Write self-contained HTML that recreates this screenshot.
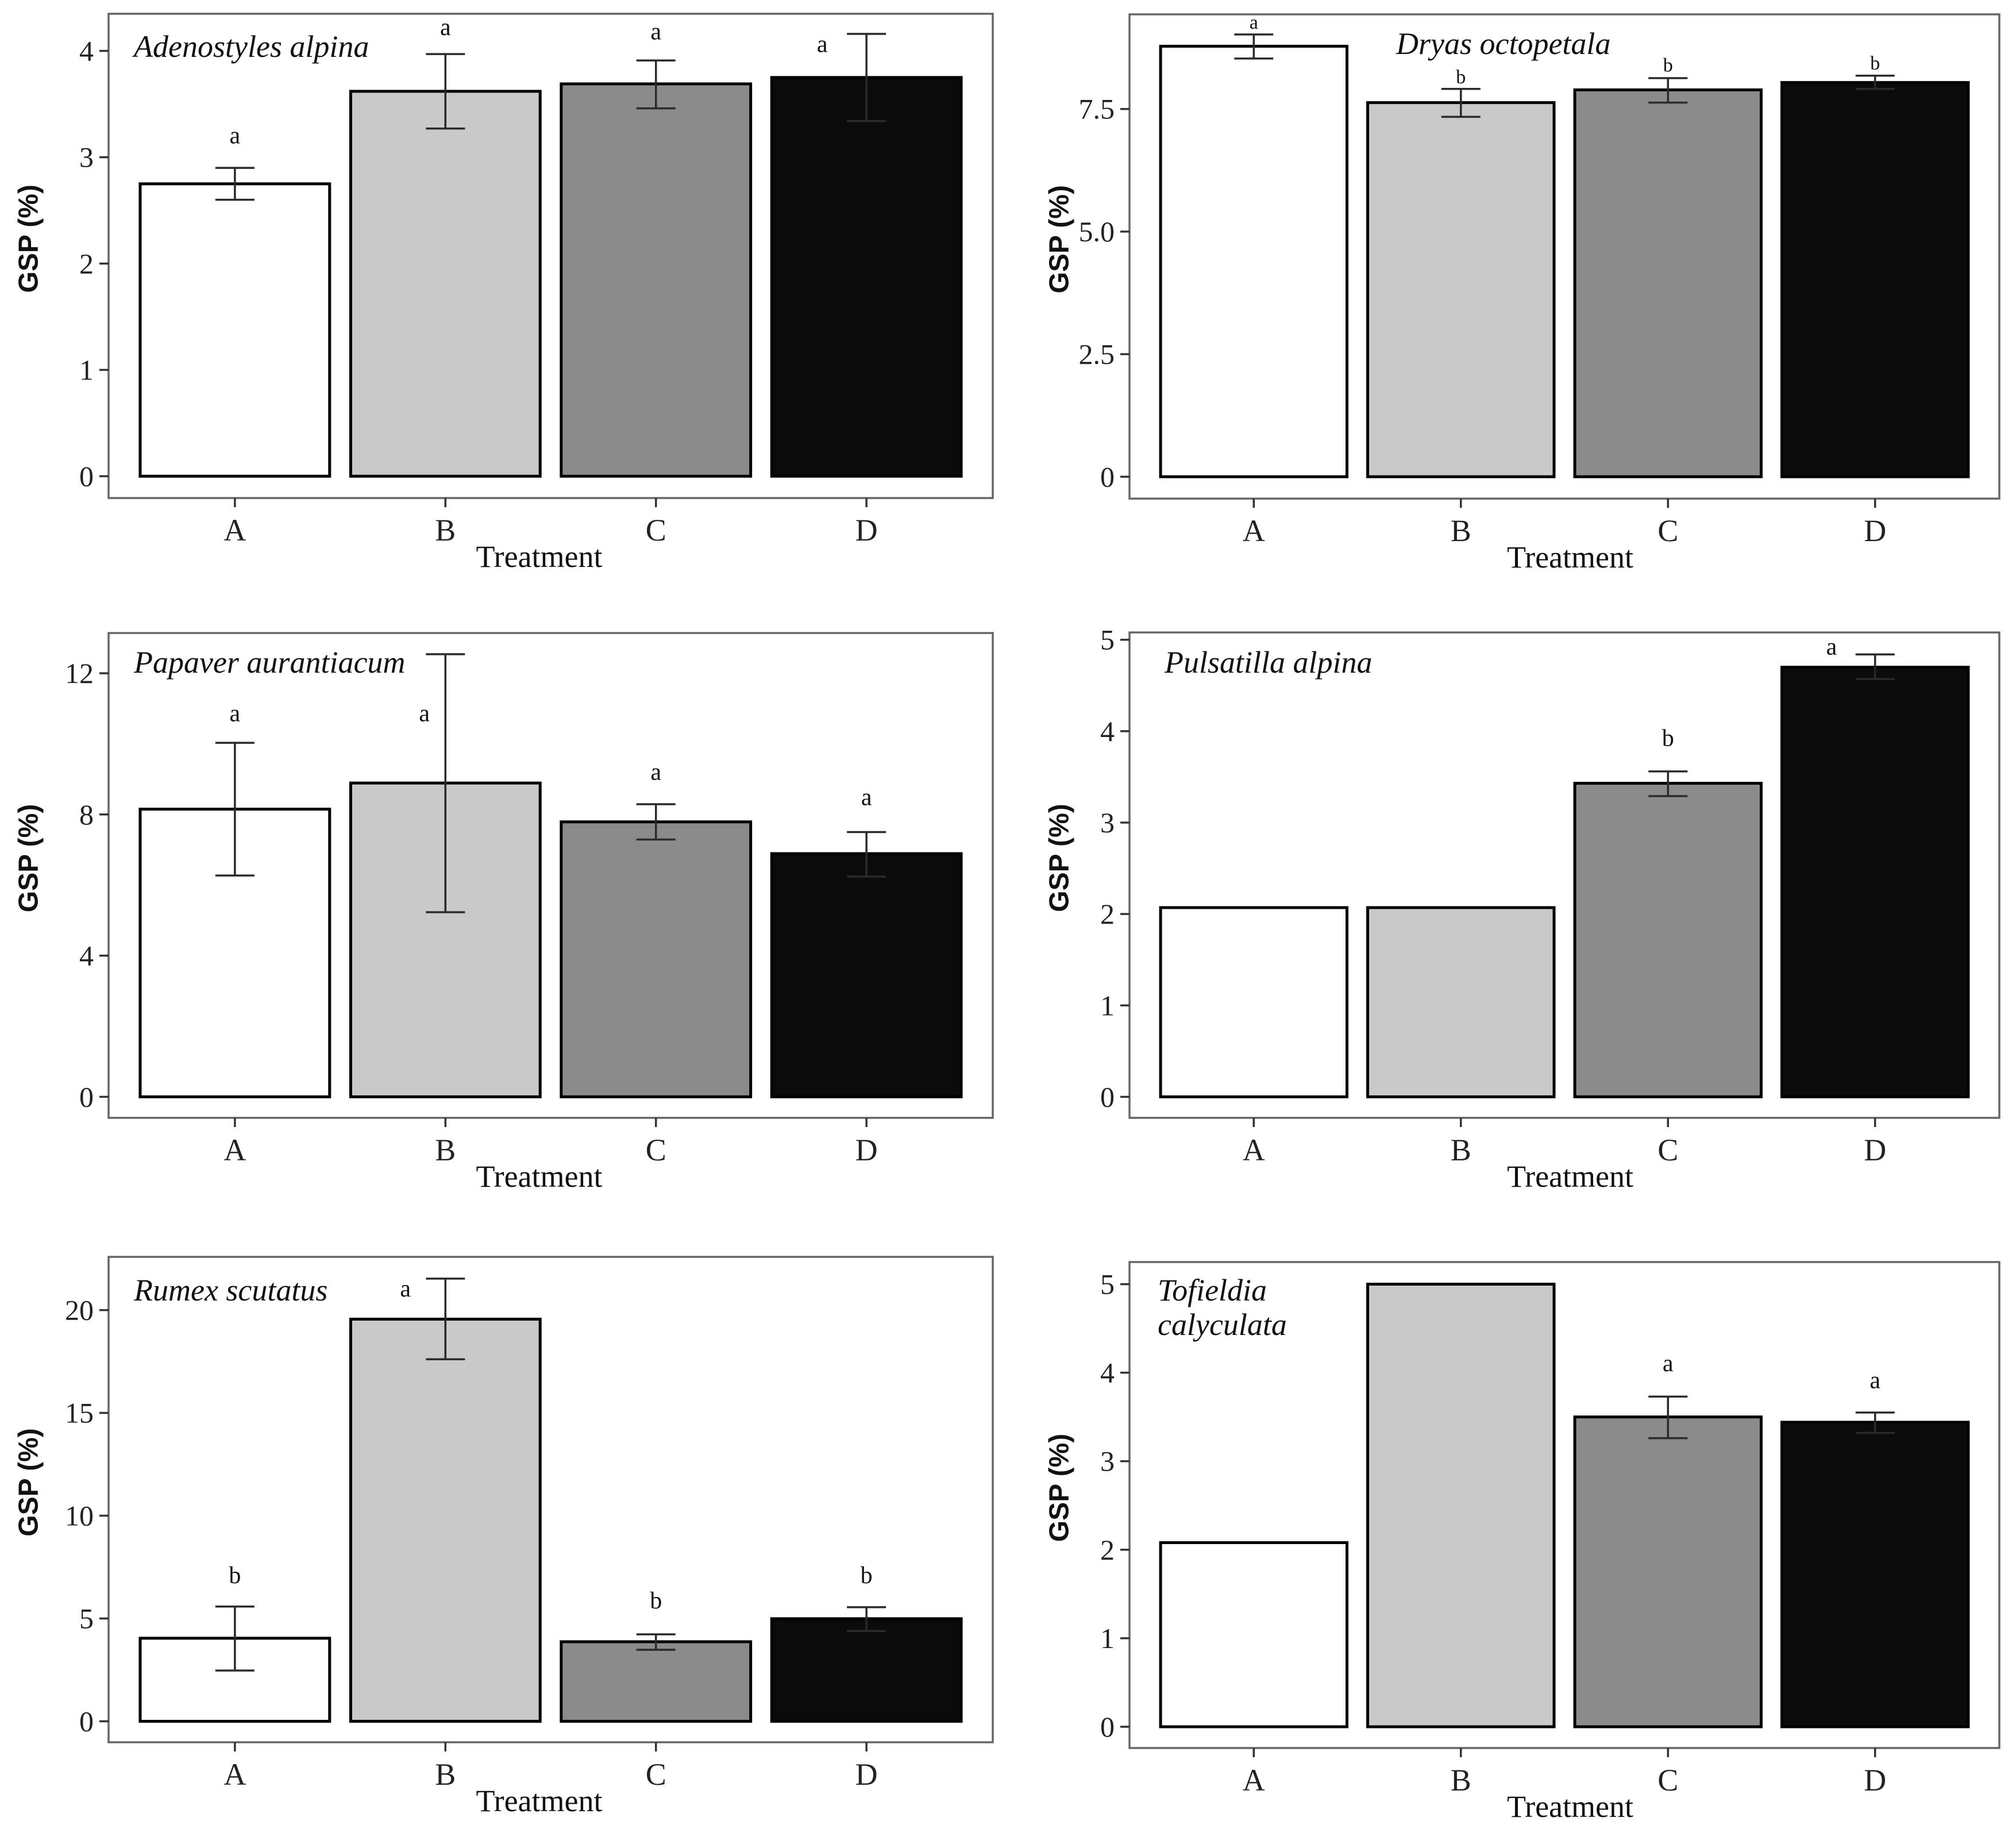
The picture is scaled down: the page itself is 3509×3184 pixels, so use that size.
<!DOCTYPE html>
<html><head><meta charset="utf-8"><style>
html,body{margin:0;padding:0;background:#fff;}
svg{display:block;}
</style></head><body>
<svg id="fig" width="3509" height="3184" viewBox="0 0 3509 3184" xmlns="http://www.w3.org/2000/svg"></svg>
<script>
const categories = ["A","B","C","D"];
const fills = ["#ffffff","#c9c9c9","#8b8b8b","#0b0b0b"];

// Adenostyles alpina
const adenoMeans = [2.75, 3.62, 3.69, 3.75];
const adenoLow = [2.60, 3.27, 3.46, 3.34];
const adenoHigh = [2.90, 3.97, 3.91, 4.16];
const adenoLetters = ["a","a","a","a"];
const adenoLetterY = [3.20, 4.22, 4.18, 4.06];
const adenoTicks = [0,1,2,3,4];
const adenoTickLabels = ["0","1","2","3","4"];

// Dryas octopetala
const dryasMeans = [8.78, 7.63, 7.89, 8.04];
const dryasLow = [8.53, 7.34, 7.63, 7.91];
const dryasHigh = [9.02, 7.91, 8.13, 8.18];
const dryasLetters = ["a","b","b","b"];
const dryasLetterY = [9.26, 8.15, 8.39, 8.43];
const dryasTicks = [0,2.5,5,7.5];
const dryasTickLabels = ["0","2.5","5.0","7.5"];

// Papaver aurantiacum
const papaverMeans = [8.15, 8.89, 7.79, 6.89];
const papaverLow = [6.27, 5.23, 7.29, 6.24];
const papaverHigh = [10.03, 12.54, 8.29, 7.50];
const papaverLetters = ["a","a","a","a"];
const papaverLetterY = [10.85, 10.85, 9.19, 8.48];
const papaverTicks = [0,4,8,12];
const papaverTickLabels = ["0","4","8","12"];

// Pulsatilla alpina
const pulsMeans = [2.07, 2.07, 3.43, 4.70];
const pulsLow = [null, null, 3.29, 4.57];
const pulsHigh = [null, null, 3.56, 4.84];
const pulsLetters = ["","","b","a"];
const pulsLetterY = [0, 0, 3.92, 4.92];
const pulsTicks = [0,1,2,3,4,5];
const pulsTickLabels = ["0","1","2","3","4","5"];

// Rumex scutatus
const rumexMeans = [4.04, 19.56, 3.87, 4.99];
const rumexLow = [2.47, 17.61, 3.48, 4.39];
const rumexHigh = [5.58, 21.53, 4.23, 5.55];
const rumexLetters = ["b","a","b","b"];
const rumexLetterY = [7.08, 21.03, 5.86, 7.08];
const rumexTicks = [0,5,10,15,20];
const rumexTickLabels = ["0","5","10","15","20"];

// Tofieldia calyculata
const tofMeans = [2.08, 5.00, 3.50, 3.44];
const tofLow = [null, null, 3.26, 3.32];
const tofHigh = [null, null, 3.73, 3.55];
const tofLetters = ["","","a","a"];
const tofLetterY = [0, 0, 4.10, 3.91];
const tofTicks = [0,1,2,3,4,5];
const tofTickLabels = ["0","1","2","3","4","5"];

const NS = "http://www.w3.org/2000/svg";
const svg = document.getElementById("fig");
function mk(tag, attrs, parent){
  const e = document.createElementNS(NS, tag);
  for (const k in attrs) e.setAttribute(k, attrs[k]);
  (parent||svg).appendChild(e);
  return e;
}

const panels = [
  {key:"adenostyles", title:["Adenostyles alpina"], tx:233, ty:[99], box:[189,24,1728,867], dom:[-0.205,4.349],
   means:adenoMeans, low:adenoLow, high:adenoHigh, letters:adenoLetters, letterY:adenoLetterY, letterDx:[0,0,0,-0.21], letterSize:42,
   ticks:adenoTicks, tickLabels:adenoTickLabels, gx:50, tdx:-20},
  {key:"dryas", title:["Dryas octopetala"], tx:2430, ty:[94], box:[1966,25,3480,868], dom:[-0.446,9.43],
   means:dryasMeans, low:dryasLow, high:dryasHigh, letters:dryasLetters, letterY:dryasLetterY, letterDx:[0,0,0,0], letterSize:34,
   ticks:dryasTicks, tickLabels:dryasTickLabels, gx:1844, tdx:10},
  {key:"papaver", title:["Papaver aurantiacum"], tx:233, ty:[1171], box:[189,1102,1728,1946], dom:[-0.596,13.14],
   means:papaverMeans, low:papaverLow, high:papaverHigh, letters:papaverLetters, letterY:papaverLetterY, letterDx:[0,-0.1,0,0], letterSize:42,
   ticks:papaverTicks, tickLabels:papaverTickLabels, gx:50, tdx:-20},
  {key:"pulsatilla", title:["Pulsatilla alpina"], tx:2027, ty:[1171], box:[1966,1101,3480,1946], dom:[-0.23,5.08],
   means:pulsMeans, low:pulsLow, high:pulsHigh, letters:pulsLetters, letterY:pulsLetterY, letterDx:[0,0,0,-0.21], letterSize:42,
   ticks:pulsTicks, tickLabels:pulsTickLabels, gx:1844, tdx:10},
  {key:"rumex", title:["Rumex scutatus"], tx:233, ty:[2264], box:[189,2188,1728,3033], dom:[-1.02,22.59],
   means:rumexMeans, low:rumexLow, high:rumexHigh, letters:rumexLetters, letterY:rumexLetterY, letterDx:[0,-0.19,0,0], letterSize:42,
   ticks:rumexTicks, tickLabels:rumexTickLabels, gx:50, tdx:-20},
  {key:"tofieldia", title:["Tofieldia","calyculata"], tx:2015, ty:[2264,2324], box:[1966,2197,3480,3043], dom:[-0.24,5.25],
   means:tofMeans, low:tofLow, high:tofHigh, letters:tofLetters, letterY:tofLetterY, letterDx:[0,0,0,0], letterSize:42,
   ticks:tofTicks, tickLabels:tofTickLabels, gx:1844, tdx:10}
];

const serif = '"Liberation Serif", serif';
panels.forEach(p => {
  const g = mk("g", {});
  
  
  const [x0,y0,x1,y1] = p.box;
  const xs = c => x0 + (x1-x0) * (c + 0.6) / 4.2;
  const ys = v => y1 - (y1-y0) * (v - p.dom[0]) / (p.dom[1]-p.dom[0]);
  const bw = (x1-x0) * 0.9 / 4.2;

  p.means.forEach((m,i) => {
    const r = mk("rect", {x:xs(i)-bw/2, y:ys(m), width:bw, height:ys(0)-ys(m), fill:fills[i], stroke:"#000", "stroke-width":5}, g);
    
    
  });
  p.means.forEach((m,i) => {
    if (p.low[i] === null) return;
    const eg = mk("g", {stroke:"#2a2a2a", "stroke-width":3.5, fill:"none"}, g);
    
    
    const cx = xs(i), hw = 34;
    mk("line", {x1:cx, x2:cx, y1:ys(p.low[i]), y2:ys(p.high[i])}, eg);
    mk("line", {x1:cx-hw, x2:cx+hw, y1:ys(p.low[i]), y2:ys(p.low[i])}, eg);
    mk("line", {x1:cx-hw, x2:cx+hw, y1:ys(p.high[i]), y2:ys(p.high[i])}, eg);
  });
  p.letters.forEach((l,i) => {
    if (!l) return;
    const t = mk("text", {x:xs(i + p.letterDx[i]), y:ys(p.letterY[i]), "text-anchor":"middle", "dominant-baseline":"central",
      "font-family":serif, "font-size":p.letterSize, fill:"#111"}, g);
    t.textContent = l;
    
    
  });
  const b = mk("rect", {x:x0, y:y0, width:x1-x0, height:y1-y0, fill:"none", stroke:"#666", "stroke-width":3.5}, g);
  
  
  const tt = mk("text", {x:p.tx, "font-family":serif, "font-style":"italic", "font-size":54, fill:"#111"}, g);
  
  
  p.title.forEach((s,k) => { const ts = mk("tspan", {x:p.tx, y:p.ty[k]}, tt); ts.textContent = s; });
  p.ticks.forEach((v,k) => {
    mk("line", {x1:x0-16, x2:x0, y1:ys(v), y2:ys(v), stroke:"#333", "stroke-width":3.5}, g);
    const t = mk("text", {x:x0-26, y:ys(v), "text-anchor":"end", "dominant-baseline":"central", "font-family":serif, "font-size":50, fill:"#222"}, g);
    t.textContent = p.tickLabels[k];
    
    
  });
  categories.forEach((c,i) => {
    mk("line", {x1:xs(i), x2:xs(i), y1:y1, y2:y1+16, stroke:"#333", "stroke-width":3.5}, g);
    const t = mk("text", {x:xs(i), y:y1+74, "text-anchor":"middle", "font-family":serif, "font-size":54, fill:"#222"}, g);
    t.textContent = c;
    
    
  });
  const xt = mk("text", {x:(x0+x1)/2 + p.tdx, y:y1+120, "text-anchor":"middle", "font-family":serif, "font-size":54, fill:"#111"}, g);
  xt.textContent = "Treatment";
  
  
  const cy = (y0+y1)/2 - 30;
  const yt = mk("text", {x:p.gx, y:cy, "text-anchor":"middle", "dominant-baseline":"central", transform:"rotate(-90 " + p.gx + " " + cy + ")",
    "font-family":'"Liberation Sans", sans-serif', "font-weight":"bold", "font-size":48, fill:"#111"}, g);
  yt.textContent = "GSP (%)";
  
  
});
</script>
</body></html>
